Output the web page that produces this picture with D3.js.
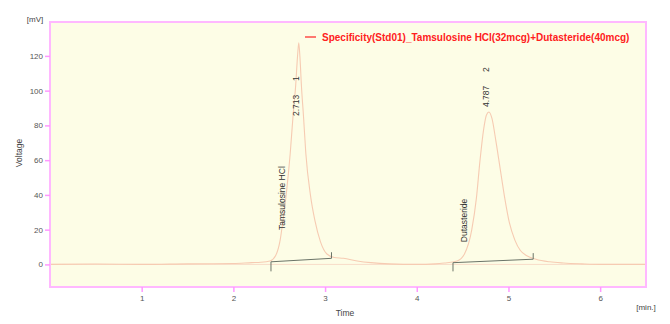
<!DOCTYPE html>
<html>
<head>
<meta charset="utf-8">
<script src="https://cdn.jsdelivr.net/npm/d3@7"></script>
<style>
  body { margin: 0; background: #fff; }
  text { font-family: "Liberation Sans", Arial, sans-serif; }
</style>
</head>
<body>
<svg width="670" height="324"></svg>
<script>
// chromatogram trace (time in min, signal in mV)
var times = [0, 0.5, 1.0, 1.5, 2.0, 2.2, 2.3,
  2.40, 2.46, 2.51, 2.54, 2.58, 2.62, 2.65, 2.678, 2.70, 2.713, 2.725, 2.743, 2.765, 2.79, 2.84, 2.89, 2.95, 3.02, 3.10, 3.2, 3.35,
  3.5, 3.7, 4.0, 4.2, 4.3,
  4.44, 4.52, 4.60, 4.65, 4.69, 4.73, 4.76, 4.787, 4.82, 4.86, 4.91, 4.96, 5.01, 5.07, 5.13, 5.2, 5.3, 5.45,
  5.6, 5.8, 6.0, 6.5];
var signal = [0, 0.2, 0, 0.3, 0.5, 1, 1.2,
  2, 5, 14, 25, 42, 64, 85, 102, 120, 127.5, 120, 102, 85, 64, 40, 25, 13, 6, 4, 3.5, 2,
  1, 0.3, 0, 0.3, 0.8,
  2, 6, 20, 38, 60, 78, 86, 87.7, 84, 72, 55, 38, 24, 14, 8, 5, 3, 1.5,
  0.8, 0.3, 0, 0];

var peakNames = ["Tamsulosine HCl", "Dutasteride"];
var peakTimes = [2.713, 4.787];
var peakStart = [2.41, 4.395];
var peakEnd = [3.07, 5.27];
var baseStart = [1.5, 1.0];
var baseEnd = [3.5, 3.0];

var xTicks = [1, 2, 3, 4, 5, 6];
var yTicks = [0, 20, 40, 60, 80, 100, 120];
var legendText = "Specificity(Std01)_Tamsulosine HCl(32mcg)+Dutasteride(40mcg)";

var svg = d3.select("svg");
var pLeft = 50, pRight = 646, pTop = 22, pBottom = 287;

var x = d3.scaleLinear().domain([0, 6.5]).range([pLeft, pRight]);
var y = d3.scaleLinear().domain([-13, 139.5]).range([pBottom, pTop]);

// plot background
svg.append("rect")
  .attr("x", pLeft).attr("y", pTop)
  .attr("width", pRight - pLeft).attr("height", pBottom - pTop)
  .attr("fill", "#fdfde6");

// zero line
svg.append("line")
  .attr("x1", pLeft).attr("x2", pRight)
  .attr("y1", y(0)).attr("y2", y(0))
  .attr("stroke", "#f8dcc8").attr("stroke-width", 1);

var pts = times.map(function (t, i) { return [t, signal[i]]; });

var line = d3.line()
  .x(function (d) { return x(d[0]); })
  .y(function (d) { return y(d[1]); })
  .curve(d3.curveMonotoneX);

svg.append("path")
  .datum(pts)
  .attr("fill", "none")
  .attr("stroke", "#f6cbb2")
  .attr("stroke-width", 1.1)
  .attr("d", line);

// integration baselines
var base = svg.append("g").attr("stroke", "#6b7468").attr("stroke-width", 1).attr("fill", "none");
peakTimes.forEach(function (p, i) {
  base.append("path")
    .attr("d", "M" + x(peakStart[i]) + "," + y(-4) +
      "L" + x(peakStart[i]) + "," + y(baseStart[i]) +
      "L" + x(peakEnd[i]) + "," + y(baseEnd[i]) +
      "L" + x(peakEnd[i]) + "," + y(baseEnd[i] + 3.5));
});

// peak labels
var labelBase = [85.4, 90.6];
var nameBase = [19.8, 12.8];
var nameTime = [2.53, 4.52];
peakTimes.forEach(function (p, i) {
  var lx = x(p) - 3;
  svg.append("text")
    .attr("transform", "translate(" + lx + "," + y(labelBase[i]) + ") rotate(-90)")
    .attr("dominant-baseline", "central")
    .attr("font-size", 8.5)
    .attr("fill", "#333")
    .text(p.toFixed(3));
  svg.append("text")
    .attr("transform", "translate(" + lx + "," + (y(labelBase[i]) - 35) + ") rotate(-90)")
    .attr("dominant-baseline", "central")
    .attr("font-size", 8.5)
    .attr("fill", "#333")
    .text(i + 1);
  svg.append("text")
    .attr("transform", "translate(" + x(nameTime[i]) + "," + y(nameBase[i]) + ") rotate(-90)")
    .attr("dominant-baseline", "central")
    .attr("font-size", 8.5)
    .attr("fill", "#333")
    .text(peakNames[i]);
});

// frame
svg.append("rect")
  .attr("x", pLeft).attr("y", pTop)
  .attr("width", pRight - pLeft).attr("height", pBottom - pTop)
  .attr("fill", "none")
  .attr("stroke", "#ffb8ff").attr("stroke-width", 2);

// axes
var xAxis = svg.append("g")
  .attr("transform", "translate(0," + pBottom + ")")
  .call(d3.axisBottom(x).tickValues(xTicks).tickSize(5).tickPadding(3).tickFormat(d3.format("d")));
var yAxis = svg.append("g")
  .attr("transform", "translate(" + pLeft + ",0)")
  .call(d3.axisLeft(y).tickValues(yTicks).tickSize(5).tickPadding(2).tickFormat(d3.format("d")));

[xAxis, yAxis].forEach(function (a) {
  a.select(".domain").remove();
  a.selectAll(".tick line").attr("stroke", "#ff99ff").attr("stroke-width", 1.5);
  a.selectAll(".tick text").attr("fill", "#555").attr("font-size", 8)
    .attr("font-family", "Liberation Sans, Arial, sans-serif");
});

// axis titles
svg.append("text")
  .attr("x", 345).attr("y", 316)
  .attr("text-anchor", "middle")
  .attr("font-size", 8.5).attr("fill", "#444")
  .text("Time");
svg.append("text")
  .attr("x", 646).attr("y", 310)
  .attr("text-anchor", "middle")
  .attr("font-size", 8).attr("fill", "#444")
  .text("[min.]");
svg.append("text")
  .attr("transform", "translate(19,153) rotate(-90)")
  .attr("text-anchor", "middle")
  .attr("dominant-baseline", "central")
  .attr("font-size", 8.5).attr("fill", "#444")
  .text("Voltage");
svg.append("text")
  .attr("x", 35).attr("y", 22)
  .attr("text-anchor", "middle")
  .attr("font-size", 8).attr("fill", "#444")
  .text("[mV]");

// legend
var lg = svg.append("g").attr("transform", "translate(305,37)");
lg.append("line")
  .attr("x1", 0).attr("x2", 11).attr("y1", 0).attr("y2", 0)
  .attr("stroke", "#ff2020").attr("stroke-width", 1.2);
lg.append("text")
  .attr("x", 17).attr("y", 3.5)
  .attr("font-size", 10).attr("font-weight", "bold")
  .attr("fill", "#ff2020")
  .text(legendText);
</script>
</body>
</html>
